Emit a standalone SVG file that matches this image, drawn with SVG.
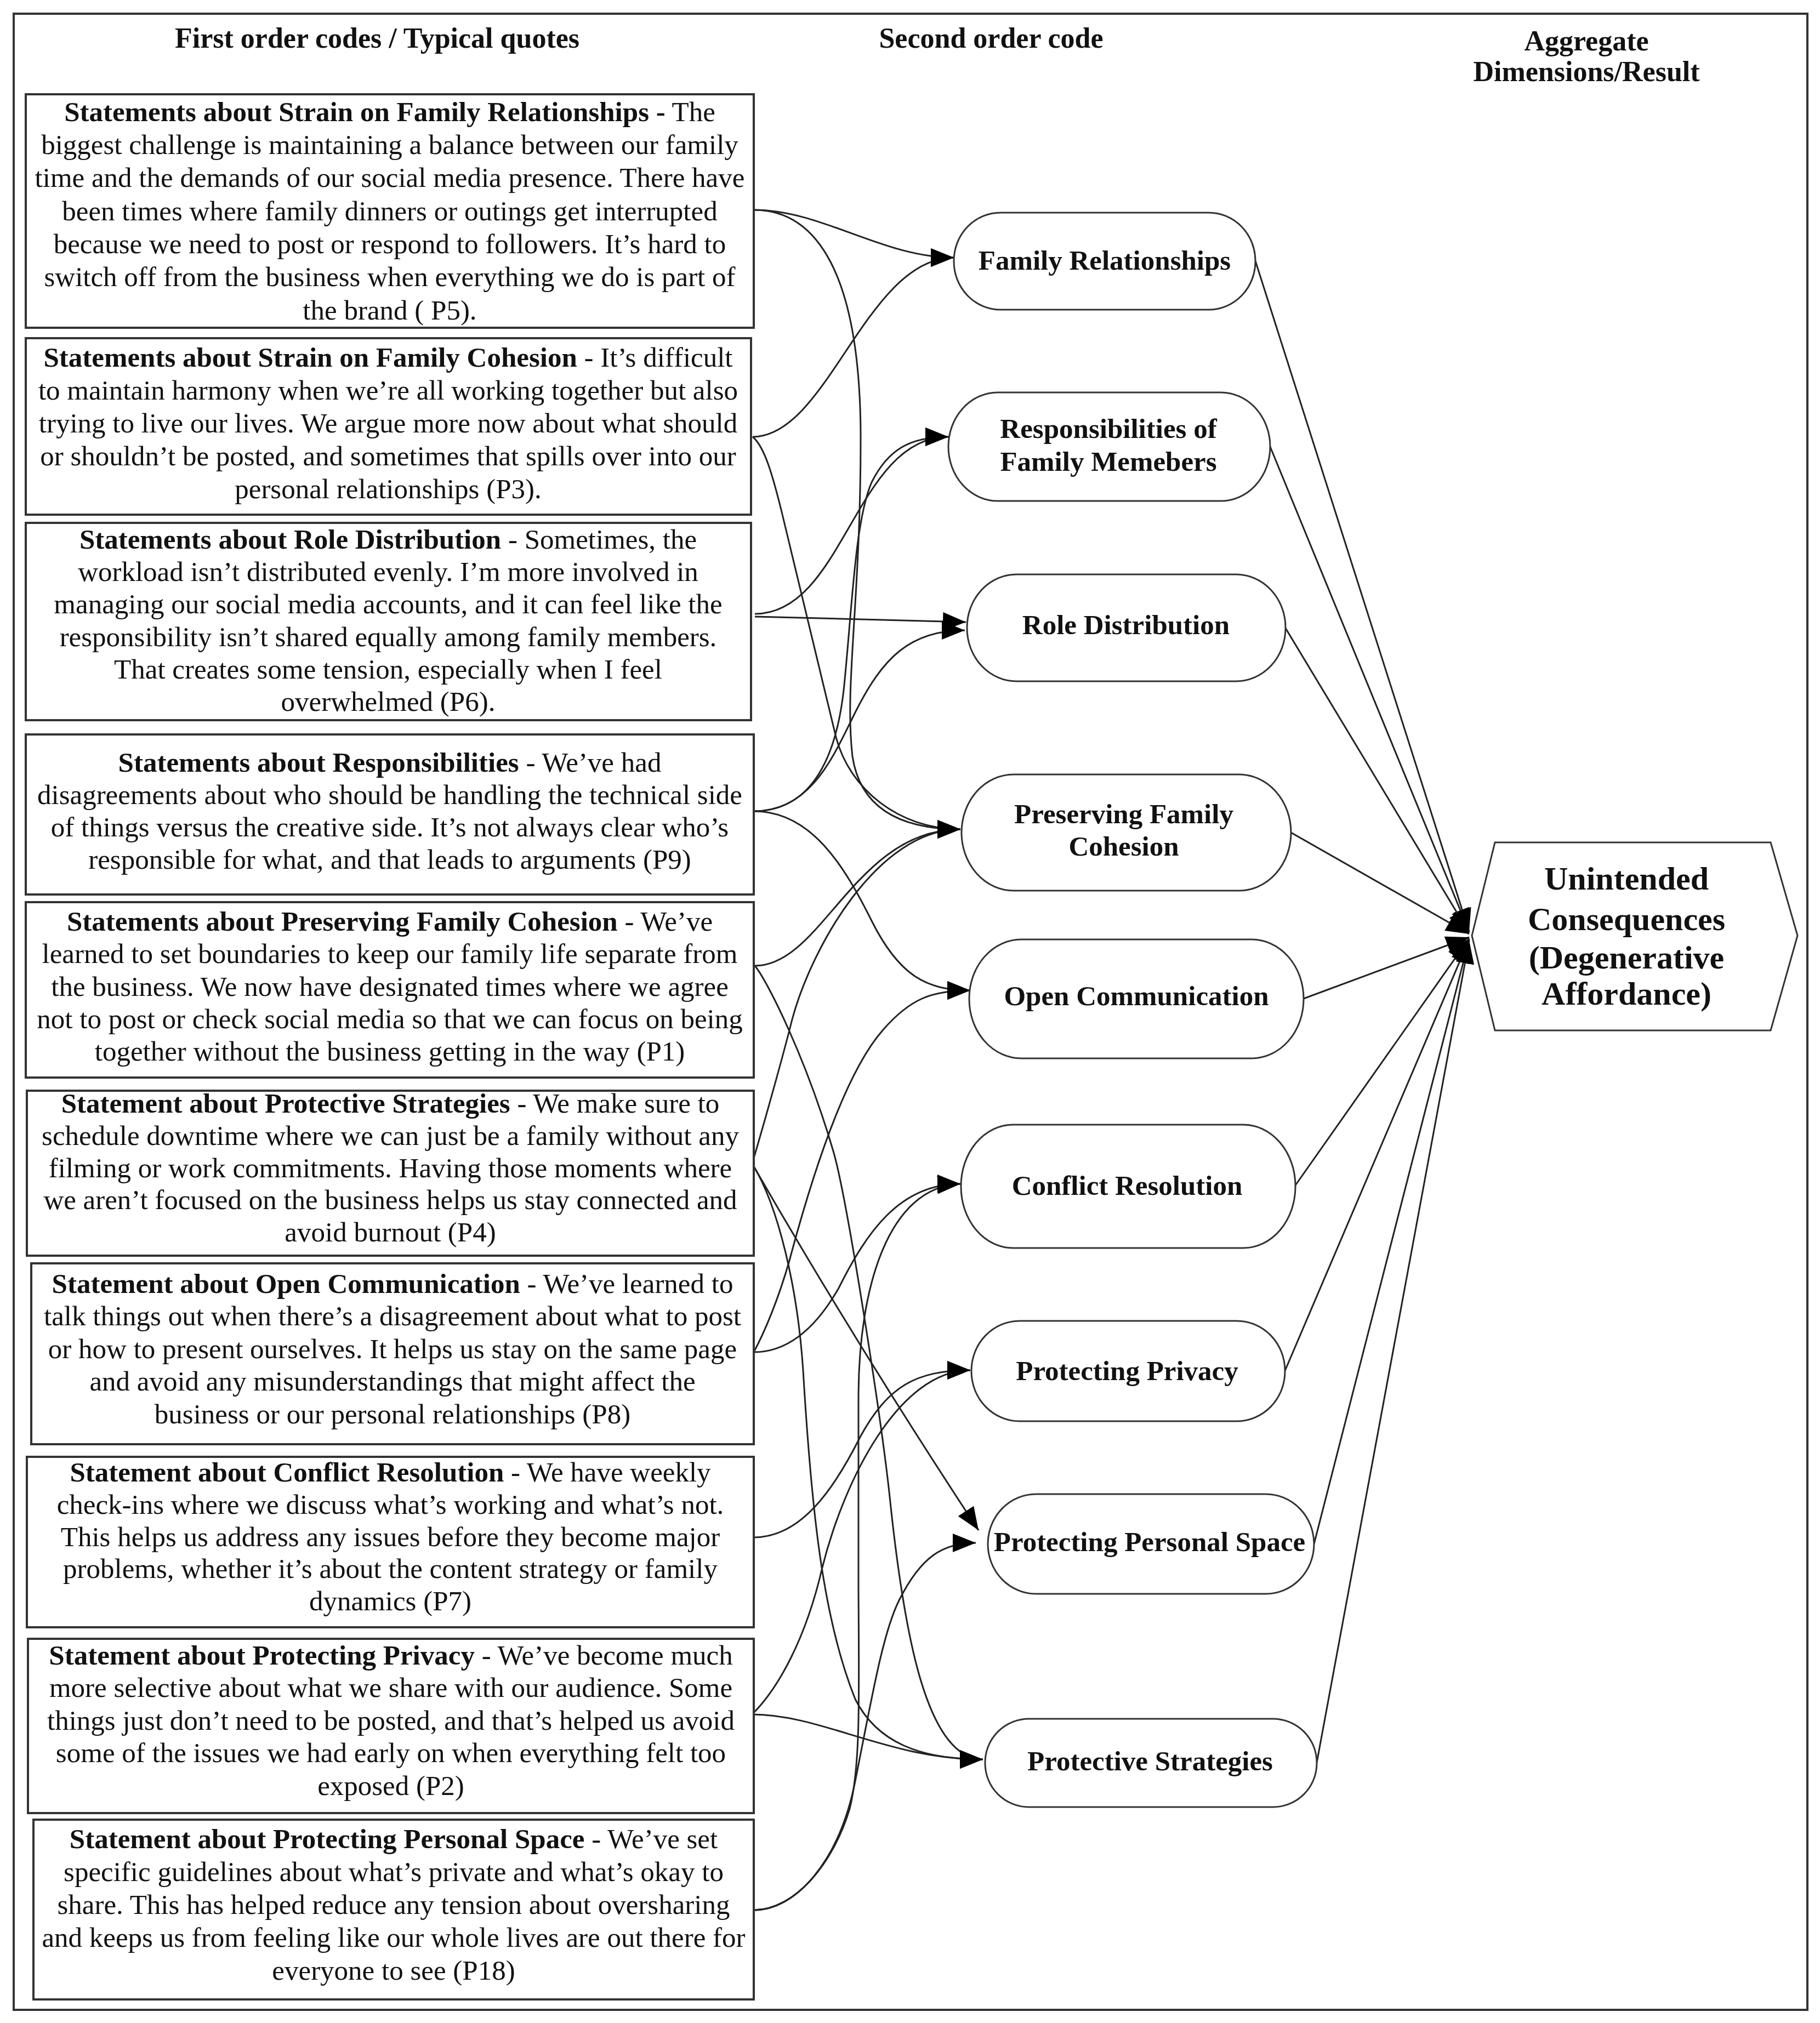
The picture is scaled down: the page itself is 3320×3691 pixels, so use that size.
<svg xmlns="http://www.w3.org/2000/svg" width="3320" height="3691" viewBox="0 0 3320 3691">
<defs>
<style>
text{font-family:"Liberation Serif","Times New Roman",serif;font-size:51px;fill:#111;text-anchor:middle}
.b{font-weight:bold}
.h{font-weight:bold;font-size:52px}
.box{fill:#fff;stroke:#333;stroke-width:4}
.node{fill:#fff;stroke:#333;stroke-width:3}
.edge{fill:none;stroke:#222;stroke-width:3;marker-end:url(#arr)}
.hx{font-size:60px;font-weight:bold}
</style>
<marker id="arr" markerUnits="userSpaceOnUse" markerWidth="46" markerHeight="38" refX="42" refY="17" orient="auto"><path d="M0,0 L42,17 L0,34 Z" fill="#000"/></marker>
</defs>
<rect width="3320" height="3691" fill="#fff"/>
<rect x="25" y="25" width="3272" height="3642" fill="none" stroke="#333" stroke-width="4"/>

<g id="headers">
<text class="h" x="688" y="87">First order codes / Typical quotes</text>
<text class="h" x="1808" y="87">Second order code</text>
<text class="h" x="2894" y="92">Aggregate</text>
<text class="h" x="2894" y="148">Dimensions/Result</text>
</g>

<g id="connectors">
<path class="edge" d="M1375,383 C1500,383 1610,470 1740,470"/>
<path class="edge" d="M1375,383 C1490,383 1570,500 1570,800 C1570,1100 1540,1250 1555,1380 C1570,1480 1650,1513 1752,1513"/>
<path class="edge" d="M1373,797 C1510,797 1580,470 1740,470"/>
<path class="edge" d="M1373,797 C1395,815 1410,870 1425,930 L1525,1345 C1550,1440 1640,1513 1752,1513"/>
<path class="edge" d="M1377,1125 L1762,1135"/>
<path class="edge" d="M1377,1120 C1540,1120 1560,797 1730,797"/>
<path class="edge" d="M1375,1480 C1470,1480 1525,1400 1540,1250 C1555,1100 1560,950 1590,880 C1620,820 1660,797 1730,797"/>
<path class="edge" d="M1375,1480 C1480,1480 1520,1380 1560,1300 C1610,1200 1660,1150 1760,1150"/>
<path class="edge" d="M1375,1480 C1480,1480 1540,1580 1590,1680 C1640,1780 1690,1807 1770,1807"/>
<path class="edge" d="M1377,1762 C1500,1762 1560,1513 1752,1513"/>
<path class="edge" d="M1377,1762 C1400,1790 1470,1930 1520,2100 C1545,2185 1610,2600 1625,2750 C1650,2980 1690,3210 1793,3210"/>
<path class="edge" d="M1372,2123 C1385,2080 1425,1940 1445,1860 C1480,1730 1600,1513 1752,1513"/>
<path class="edge" d="M1372,2123 Q1560,2450 1785,2792"/>
<path class="edge" d="M1372,2123 C1420,2200 1455,2350 1465,2500 C1480,2750 1500,2950 1560,3100 C1600,3180 1680,3210 1793,3210"/>
<path class="edge" d="M1375,2467 C1395,2430 1420,2370 1440,2300 C1480,2150 1540,1960 1610,1880 C1660,1822 1700,1807 1770,1807"/>
<path class="edge" d="M1375,2467 C1440,2467 1490,2420 1530,2350 C1580,2250 1640,2160 1752,2160"/>
<path class="edge" d="M1375,2805 C1460,2805 1520,2720 1570,2620 C1620,2530 1670,2500 1770,2500"/>
<path class="edge" d="M1372,3128 C1420,3080 1470,2990 1500,2860 C1540,2700 1640,2500 1770,2500"/>
<path class="edge" d="M1372,3128 C1500,3128 1620,3210 1793,3210"/>
<path class="edge" d="M1375,3485 C1450,3485 1520,3400 1550,3300 C1570,3220 1567,3100 1566,2900 L1566,2550 C1566,2350 1620,2165 1752,2160"/>
<path class="edge" d="M1375,3485 C1450,3485 1530,3400 1560,3250 C1590,3100 1610,2980 1640,2920 C1680,2840 1720,2815 1780,2815"/>
<path class="edge" d="M2290,476 L2680,1700"/>
<path class="edge" d="M2317,815 L2680,1700"/>
<path class="edge" d="M2345,1146 L2680,1702"/>
<path class="edge" d="M2355,1519 L2680,1704"/>
<path class="edge" d="M2378,1822 L2680,1710"/>
<path class="edge" d="M2362,2164 L2680,1712"/>
<path class="edge" d="M2344,2501 L2680,1714"/>
<path class="edge" d="M2397,2817 L2680,1714"/>
<path class="edge" d="M2402,3216 L2680,1716"/>
</g>

<g id="q1">
<rect class="box" x="47" y="172" width="1328" height="426"/>
<text x="711" y="221"><tspan class="b">Statements about Strain on Family Relationships -</tspan>  The</text>
<text x="711" y="281">biggest challenge is maintaining a balance between our family</text>
<text x="711" y="341">time and the demands of our social media presence. There have</text>
<text x="711" y="402">been times where family dinners or outings get interrupted</text>
<text x="711" y="462">because we need to post or respond to followers. It’s hard to</text>
<text x="711" y="522">switch off from the business when everything we do is part of</text>
<text x="711" y="583">the brand ( P5).</text>
</g>
<g id="q2">
<rect class="box" x="47" y="617" width="1323" height="322"/>
<text x="708" y="669"><tspan class="b">Statements about Strain on Family Cohesion</tspan> - It’s difficult</text>
<text x="708" y="729">to maintain harmony when we’re all working together but also</text>
<text x="708" y="789">trying to live our lives. We argue more now about what should</text>
<text x="708" y="849">or shouldn’t be posted, and sometimes that spills over into our</text>
<text x="708" y="909">personal relationships (P3).</text>
</g>
<g id="q3">
<rect class="box" x="47" y="954" width="1323" height="360"/>
<text x="708" y="1001"><tspan class="b">Statements about Role Distribution</tspan> - Sometimes, the</text>
<text x="708" y="1060">workload isn’t distributed evenly. I’m more involved in</text>
<text x="708" y="1119">managing our social media accounts, and it can feel like the</text>
<text x="708" y="1179">responsibility isn’t shared equally among family members.</text>
<text x="708" y="1238">That creates some tension, especially when I feel</text>
<text x="708" y="1297">overwhelmed (P6).</text>
</g>
<g id="q4">
<rect class="box" x="47" y="1340" width="1328" height="292"/>
<text x="711" y="1408"><tspan class="b">Statements about Responsibilities</tspan> -  We’ve had</text>
<text x="711" y="1467">disagreements about who should be handling the technical side</text>
<text x="711" y="1526">of things versus the creative side. It’s not always clear who’s</text>
<text x="711" y="1585">responsible for what, and that leads to arguments (P9)</text>
</g>
<g id="q5">
<rect class="box" x="47" y="1646" width="1328" height="320"/>
<text x="711" y="1698"><tspan class="b">Statements about Preserving Family Cohesion</tspan>  -  We’ve</text>
<text x="711" y="1757">learned to set boundaries to keep our family life separate from</text>
<text x="711" y="1817">the business. We now have designated times where we agree</text>
<text x="711" y="1876">not to post or check social media so that we can focus on being</text>
<text x="711" y="1935">together without the business getting in the way (P1)</text>
</g>
<g id="q6">
<rect class="box" x="49" y="1990" width="1326" height="301"/>
<text x="712" y="2030"><tspan class="b">Statement about Protective Strategies</tspan> -  We make sure to</text>
<text x="712" y="2089">schedule downtime where we can just be a family without any</text>
<text x="712" y="2148">filming or work commitments. Having those moments where</text>
<text x="712" y="2206">we aren’t focused on the business helps us stay connected and</text>
<text x="712" y="2265">avoid burnout (P4)</text>
</g>
<g id="q7">
<rect class="box" x="57" y="2305" width="1318" height="330"/>
<text x="716" y="2359"><tspan class="b">Statement about Open Communication</tspan> -  We’ve learned to</text>
<text x="716" y="2418">talk things out when there’s a disagreement about what to post</text>
<text x="716" y="2478">or how to present ourselves. It helps us stay on the same page</text>
<text x="716" y="2537">and avoid any misunderstandings that might affect the</text>
<text x="716" y="2597">business or our personal relationships (P8)</text>
</g>
<g id="q8">
<rect class="box" x="49" y="2658" width="1326" height="311"/>
<text x="712" y="2703"><tspan class="b">Statement about Conflict Resolution</tspan> -  We have weekly</text>
<text x="712" y="2762">check-ins where we discuss what’s working and what’s not.</text>
<text x="712" y="2821">This helps us address any issues before they become major</text>
<text x="712" y="2879">problems, whether it’s about the content strategy or family</text>
<text x="712" y="2938">dynamics (P7)</text>
</g>
<g id="q9">
<rect class="box" x="51" y="2990" width="1324" height="318"/>
<text x="713" y="3037"><tspan class="b">Statement about Protecting Privacy</tspan> -  We’ve become much</text>
<text x="713" y="3096">more selective about what we share with our audience. Some</text>
<text x="713" y="3156">things just don’t need to be posted, and that’s helped us avoid</text>
<text x="713" y="3215">some of the issues we had early on when everything felt too</text>
<text x="713" y="3275">exposed (P2)</text>
</g>
<g id="q10">
<rect class="box" x="61" y="3320" width="1314" height="328"/>
<text x="718" y="3372"><tspan class="b">Statement about Protecting Personal Space</tspan> -  We’ve set</text>
<text x="718" y="3432">specific guidelines about what’s private and what’s okay to</text>
<text x="718" y="3492">share. This has helped reduce any tension about oversharing</text>
<text x="718" y="3552">and keeps us from feeling like our whole lives are out there for</text>
<text x="718" y="3612">everyone to see (P18)</text>
</g>

<g id="n1"><rect class="node" x="1740" y="388" width="550" height="177" rx="85" ry="88"/><text class="b" x="2015" y="492">Family Relationships</text></g>
<g id="n2"><rect class="node" x="1730" y="716" width="587" height="198" rx="90" ry="99"/><text class="b" x="2022" y="799">Responsibilities of</text><text class="b" x="2022" y="859">Family Memebers</text></g>
<g id="n3"><rect class="node" x="1764" y="1048" width="581" height="195" rx="90" ry="97"/><text class="b" x="2054" y="1157">Role Distribution</text></g>
<g id="n4"><rect class="node" x="1754" y="1413" width="601" height="212" rx="95" ry="106"/><text class="b" x="2050" y="1502">Preserving Family</text><text class="b" x="2050" y="1561">Cohesion</text></g>
<g id="n5"><rect class="node" x="1768" y="1714" width="610" height="217" rx="95" ry="108"/><text class="b" x="2073" y="1834">Open Communication</text></g>
<g id="n6"><rect class="node" x="1753" y="2052" width="610" height="225" rx="95" ry="112"/><text class="b" x="2056" y="2180">Conflict Resolution</text></g>
<g id="n7"><rect class="node" x="1772" y="2410" width="572" height="183" rx="88" ry="91"/><text class="b" x="2056" y="2518">Protecting Privacy</text></g>
<g id="n8"><rect class="node" x="1802" y="2726" width="595" height="182" rx="88" ry="91"/><text class="b" x="2097" y="2830">Protecting Personal Space</text></g>
<g id="n9"><rect class="node" x="1797" y="3136" width="605" height="161" rx="80" ry="80"/><text class="b" x="2098" y="3230">Protective Strategies</text></g>

<g id="result">
<polygon points="2685,1707 2727,1537 3230,1537 3279,1707 3230,1880 2727,1880" fill="#fff" stroke="#333" stroke-width="3"/>
<text class="hx" x="2967" y="1623">Unintended</text>
<text class="hx" x="2967" y="1697">Consequences</text>
<text class="hx" x="2967" y="1767">(Degenerative</text>
<text class="hx" x="2967" y="1833">Affordance)</text>
</g>
</svg>
